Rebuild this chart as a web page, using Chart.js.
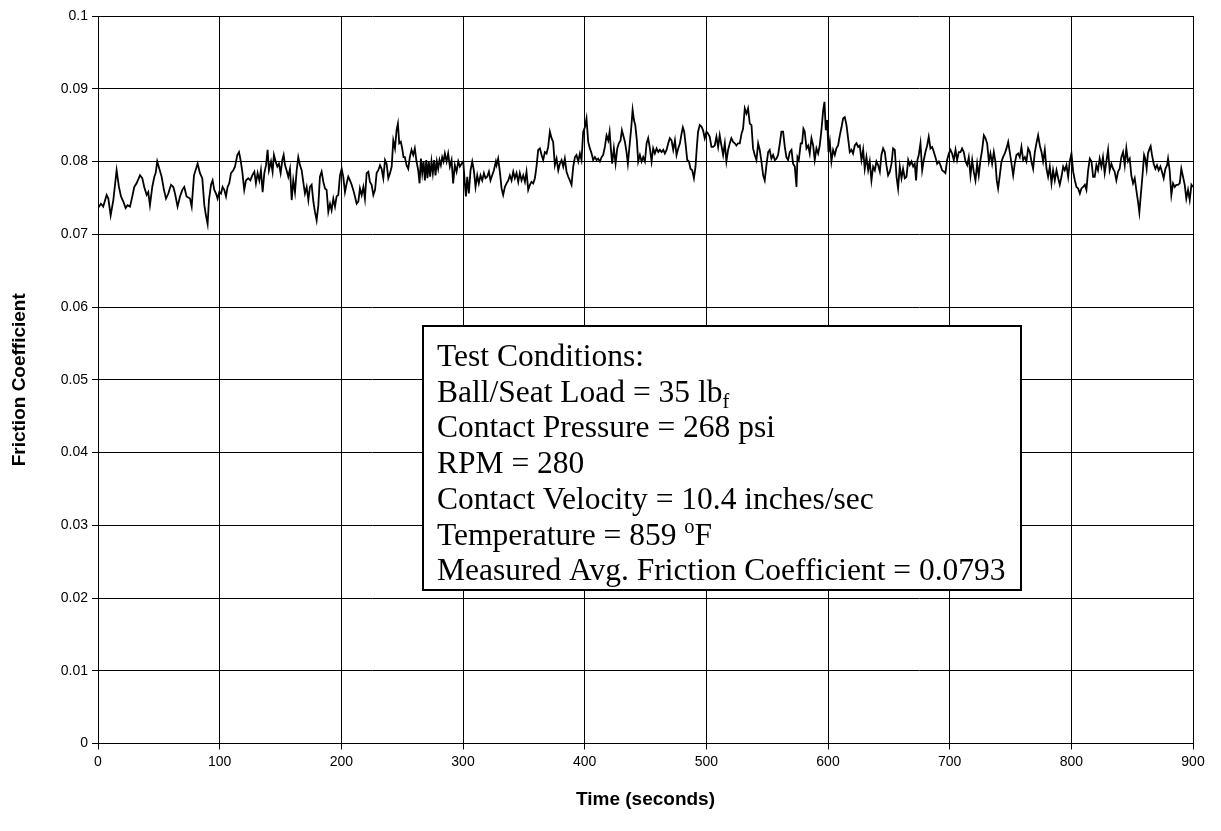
<!DOCTYPE html>
<html>
<head>
<meta charset="utf-8">
<title>Friction Coefficient vs Time</title>
<script src="https://cdn.jsdelivr.net/npm/chart.js@4.4.1/dist/chart.umd.min.js"></script>
<style>
  html, body { margin: 0; padding: 0; background: #fff; }
  #wrap { width: 1221px; height: 831px; }
</style>
</head>
<body>
<div id="wrap"><canvas id="frictionChart" width="1221" height="831"></canvas></div>
<script>
// sample times (s) and measured friction coefficient
const timeSec = [
  0, 2.4, 4.3, 7.1, 8.5, 10.4, 12.6, 15.3, 17.2, 18.9, 20.8, 22.7, 24.3, 26.3, 28.2, 29.8, 31.7, 34.5, 36.4, 38.0,
  40.0, 41.3, 42.7, 44.6, 46.3, 47.4, 48.7, 50.4, 52.3, 54.2, 55.9, 57.8, 60.0, 61.9, 63.3, 65.4, 67.4, 69.3, 70.9, 72.8,
  75.6, 77.0, 78.9, 81.9, 83.8, 85.7, 87.4, 88.7, 90.1, 91.2, 92.9, 94.2, 95.6, 97.0, 98.3, 99.7,
  101.1, 102.4, 103.8, 105.2, 106.5, 107.9, 109.3, 111.2, 112.6, 114.5, 115.9, 117.2, 118.6, 120.2, 121.6, 123.5, 125.2, 126.8, 128.5, 129.8,
  131.2, 132.6, 133.9, 135.3, 136.7, 138.1, 139.4, 140.5, 142.2, 143.5, 144.6, 146.0, 147.4, 148.7, 150.1, 151.5, 152.6, 153.7, 155.0, 156.4,
  157.8, 159.2, 160.5, 161.9, 163.3, 164.6, 166.0, 167.4, 168.7, 170.1, 171.5, 172.9, 174.2, 175.6, 177.0, 178.3, 179.7, 181.1, 182.4, 183.8,
  185.2, 186.6, 187.9, 189.3, 190.7, 192.0, 193.4, 194.8, 196.1, 197.5, 198.9,
  200.3, 201.6, 203.0, 204.4, 205.7, 207.1, 208.5, 209.8, 211.2, 212.6, 214.0, 215.3, 216.7, 218.1, 219.4, 220.8, 222.2, 223.5, 224.9, 226.3,
  227.7, 229.0, 230.4, 231.8, 233.1, 234.5, 235.9, 237.2, 238.6, 240.0, 241.4, 242.7, 244.1, 245.4, 246.5, 247.6, 248.9, 250.0, 251.1, 252.2,
  253.6, 255.0, 256.3, 257.7, 259.1, 260.4, 261.8, 263.2, 264.3, 265.4, 266.5, 267.6, 268.7, 269.8, 270.8, 271.9, 273.0, 274.1, 275.2, 276.3,
  277.4, 278.5, 279.6, 280.7, 281.8, 282.9, 284.0, 285.1, 286.5, 287.8, 289.2, 290.6, 291.9, 293.3, 294.7, 296.1, 297.4, 298.8,
  300.2, 301.5, 302.4, 303.5, 304.8, 306.2, 307.6, 308.9, 310.3, 311.7, 313.0, 314.4, 315.8, 317.2, 318.5, 319.9, 321.3, 322.6, 324.0, 325.4,
  327.0, 327.6, 328.9, 330.3, 331.7, 333.0, 334.4, 335.8, 337.2, 338.5, 339.9, 341.3, 342.6, 344.0, 345.4, 346.7, 348.1, 349.5, 350.9, 352.2,
  353.6, 355.0, 356.3, 357.7, 359.1, 360.4, 361.8, 363.2, 364.6, 365.9, 367.3, 368.7, 370.0, 371.4, 372.8, 374.1, 375.5, 376.9, 378.3, 379.6,
  381.0, 382.4, 383.7, 385.1, 386.5, 387.8, 389.2, 390.6, 392.0, 393.3, 394.7, 396.1, 397.4, 398.8,
  400.2, 401.5, 402.9, 404.3, 405.7, 407.0, 408.4, 409.8, 411.1, 412.5, 413.9, 415.2, 416.6, 418.0, 419.4, 420.5, 421.6, 422.6, 424.0, 425.4,
  426.8, 428.1, 429.5, 430.6, 432.0, 433.1, 434.4, 435.5, 436.9, 438.3, 439.4, 440.5, 441.6, 442.9, 444.0, 445.4, 446.8, 448.1, 449.5, 450.9,
  452.2, 453.6, 455.0, 456.3, 457.7, 459.1, 460.5, 461.8, 463.2, 464.6, 465.9, 467.3, 468.7, 470.0, 471.4, 472.8, 474.2, 475.5, 476.9, 478.3,
  479.6, 480.7, 481.8, 482.9, 484.3, 485.7, 487.0, 488.4, 489.8, 491.1, 492.2, 493.2, 494.6, 496.0, 497.3, 498.7,
  500.1, 501.5, 502.8, 504.2, 505.6, 506.9, 508.3, 509.7, 511.0, 512.4, 513.8, 515.2, 516.5, 517.9, 519.3, 520.6, 522.0, 523.4, 524.7, 526.1,
  527.5, 528.9, 530.2, 531.6, 533.0, 534.3, 535.7, 537.1, 538.4, 539.8, 541.2, 542.6, 543.9, 545.3, 546.7, 548.0, 549.4, 550.8, 552.1, 553.5,
  554.9, 556.3, 557.6, 559.0, 560.4, 561.7, 563.1, 564.5, 565.8, 567.2, 568.6, 570.0, 571.3, 572.7, 574.1, 574.9, 576.0, 577.6, 578.7, 579.8,
  580.9, 582.3, 583.7, 585.0, 586.4, 587.8, 589.1, 590.5, 591.9, 593.2, 594.6, 596.0, 597.1, 598.2, 599.3,
  600.4, 601.5, 602.8, 604.2, 605.6, 606.9, 608.3, 609.7, 611.1, 612.4, 613.8, 615.2, 616.5, 617.9, 619.3, 620.6, 622.0, 623.4, 624.8, 626.1,
  627.5, 628.9, 630.2, 631.6, 633.0, 634.3, 635.7, 637.1, 638.5, 639.8, 641.2, 642.6, 643.9, 645.3, 646.7, 648.0, 649.4, 650.8, 652.2, 653.5,
  654.9, 656.3, 657.6, 659.0, 660.4, 661.7, 663.1, 664.5, 665.9, 667.2, 668.6, 670.0, 671.3, 672.4, 673.5, 674.6, 676.0, 677.4, 678.7, 680.1,
  681.5, 682.8, 684.2, 685.6, 687.0, 688.3, 689.7, 691.1, 692.4, 693.8, 695.2, 696.5, 697.9, 699.3,
  700.7, 702.0, 703.4, 704.8, 706.1, 707.5, 708.9, 710.2, 711.6, 713.0, 714.4, 715.7, 717.1, 718.5, 719.8, 721.2, 722.6, 723.9, 725.3, 726.7,
  728.1, 729.4, 730.8, 732.2, 733.5, 734.9, 736.3, 737.6, 738.7, 739.8, 741.2, 742.6, 743.9, 745.3, 746.7, 748.1, 749.4, 750.8, 752.2, 753.5,
  754.9, 756.3, 757.6, 759.0, 760.4, 761.8, 763.1, 764.5, 765.9, 767.2, 768.6, 770.0, 771.3, 772.7, 774.1, 775.5, 776.8, 778.2, 779.6, 780.9,
  782.3, 783.7, 785.0, 786.4, 787.8, 789.2, 790.5, 791.9, 793.3, 794.6, 796.0, 797.4, 798.7,
  800.1, 801.5, 802.9, 804.2, 805.6, 807.0, 808.3, 809.7, 811.1, 812.4, 813.8, 815.2, 816.6, 817.9, 819.2, 820.6, 821.9, 823.3, 824.7, 826.0,
  827.4, 828.8, 830.2, 831.5, 832.9, 834.3, 835.6, 837.0, 838.4, 839.7, 841.1, 842.5, 843.9, 845.2, 846.6, 848.0, 849.3, 850.7, 852.1, 853.4,
  854.8, 855.9, 857.0, 858.4, 859.8, 860.8, 861.9, 863.0, 864.4, 865.2, 866.3, 867.7, 869.1, 870.4, 871.8, 873.2, 874.5, 875.9, 877.3, 878.7,
  879.5, 880.8, 882.2, 883.6, 885.0, 886.3, 887.7, 889.1, 890.4, 891.8, 893.2, 894.5, 895.9, 897.3, 898.7, 900
];
const friction = [
  0.0736, 0.0742, 0.0738, 0.0754, 0.0749, 0.0726, 0.0747, 0.0788, 0.0765, 0.0752, 0.0745, 0.0736, 0.0740, 0.0738, 0.0752, 0.0765, 0.0770, 0.0781, 0.0777, 0.0765,
  0.0754, 0.0758, 0.0740, 0.0765, 0.0779, 0.0784, 0.0800, 0.0790, 0.0779, 0.0761, 0.0749, 0.0756, 0.0768, 0.0765, 0.0756, 0.0738, 0.0752, 0.0761, 0.0765, 0.0752,
  0.0749, 0.0738, 0.0781, 0.0797, 0.0784, 0.0777, 0.0740, 0.0726, 0.0714, 0.0747, 0.0768, 0.0774, 0.0761, 0.0756, 0.0749, 0.0758,
  0.0756, 0.0765, 0.0761, 0.0752, 0.0765, 0.0770, 0.0784, 0.0788, 0.0793, 0.0809, 0.0813, 0.0802, 0.0786, 0.0761, 0.0774, 0.0777, 0.0774, 0.0781, 0.0786, 0.0770,
  0.0784, 0.0774, 0.0788, 0.0758, 0.0784, 0.0795, 0.0816, 0.0788, 0.0800, 0.0786, 0.0809, 0.0800, 0.0793, 0.0797, 0.0784, 0.0802, 0.0809, 0.0795, 0.0788, 0.0779,
  0.0790, 0.0747, 0.0774, 0.0758, 0.0788, 0.0806, 0.0795, 0.0788, 0.0772, 0.0756, 0.0765, 0.0747, 0.0765, 0.0768, 0.0745, 0.0731, 0.0719, 0.0740, 0.0779, 0.0786,
  0.0772, 0.0763, 0.0761, 0.0731, 0.0742, 0.0733, 0.0749, 0.0738, 0.0752, 0.0754, 0.0781,
  0.0790, 0.0779, 0.0758, 0.0770, 0.0779, 0.0774, 0.0768, 0.0761, 0.0752, 0.0742, 0.0745, 0.0763, 0.0754, 0.0765, 0.0749, 0.0784, 0.0786, 0.0772, 0.0768, 0.0754,
  0.0761, 0.0784, 0.0788, 0.0795, 0.0790, 0.0777, 0.0802, 0.0797, 0.0777, 0.0784, 0.0793, 0.0829, 0.0818, 0.0843, 0.0852, 0.0825, 0.0827, 0.0818, 0.0806, 0.0806,
  0.0795, 0.0790, 0.0806, 0.0816, 0.0809, 0.0818, 0.0800, 0.0788, 0.0770, 0.0804, 0.0784, 0.0800, 0.0774, 0.0802, 0.0777, 0.0800, 0.0779, 0.0800, 0.0784, 0.0802,
  0.0781, 0.0800, 0.0790, 0.0802, 0.0795, 0.0806, 0.0800, 0.0811, 0.0800, 0.0811, 0.0793, 0.0802, 0.0770, 0.0795, 0.0786, 0.0800, 0.0793, 0.0797,
  0.0800, 0.0770, 0.0752, 0.0779, 0.0756, 0.0788, 0.0800, 0.0788, 0.0765, 0.0781, 0.0770, 0.0781, 0.0774, 0.0784, 0.0777, 0.0779, 0.0786, 0.0774, 0.0781, 0.0788,
  0.0800, 0.0795, 0.0804, 0.0786, 0.0763, 0.0754, 0.0765, 0.0770, 0.0774, 0.0781, 0.0774, 0.0786, 0.0777, 0.0784, 0.0772, 0.0784, 0.0774, 0.0781, 0.0772, 0.0786,
  0.0761, 0.0768, 0.0772, 0.0770, 0.0777, 0.0793, 0.0816, 0.0818, 0.0809, 0.0802, 0.0813, 0.0811, 0.0820, 0.0841, 0.0832, 0.0827, 0.0795, 0.0804, 0.0788, 0.0797,
  0.0802, 0.0793, 0.0804, 0.0786, 0.0779, 0.0774, 0.0768, 0.0793, 0.0806, 0.0809, 0.0800, 0.0811, 0.0802, 0.0841,
  0.0847, 0.0859, 0.0827, 0.0818, 0.0811, 0.0802, 0.0806, 0.0802, 0.0804, 0.0800, 0.0806, 0.0809, 0.0820, 0.0836, 0.0829, 0.0841, 0.0816, 0.0797, 0.0818, 0.0797,
  0.0818, 0.0825, 0.0829, 0.0843, 0.0834, 0.0827, 0.0813, 0.0797, 0.0822, 0.0847, 0.0871, 0.0857, 0.0850, 0.0829, 0.0800, 0.0809, 0.0800, 0.0806, 0.0800, 0.0825,
  0.0832, 0.0818, 0.0800, 0.0818, 0.0811, 0.0818, 0.0813, 0.0816, 0.0813, 0.0816, 0.0811, 0.0816, 0.0825, 0.0832, 0.0829, 0.0816, 0.0829, 0.0809, 0.0818, 0.0825,
  0.0838, 0.0847, 0.0841, 0.0825, 0.0802, 0.0800, 0.0790, 0.0788, 0.0777, 0.0793, 0.0820, 0.0841, 0.0850, 0.0848, 0.0843, 0.0832,
  0.0841, 0.0838, 0.0834, 0.0820, 0.0820, 0.0822, 0.0834, 0.0820, 0.0836, 0.0822, 0.0809, 0.0825, 0.0800, 0.0816, 0.0825, 0.0832, 0.0827, 0.0825, 0.0822, 0.0825,
  0.0825, 0.0838, 0.0845, 0.0873, 0.0866, 0.0873, 0.0852, 0.0850, 0.0818, 0.0809, 0.0802, 0.0825, 0.0816, 0.0800, 0.0781, 0.0774, 0.0795, 0.0813, 0.0816, 0.0804,
  0.0809, 0.0802, 0.0804, 0.0809, 0.0825, 0.0841, 0.0841, 0.0820, 0.0806, 0.0802, 0.0813, 0.0816, 0.0797, 0.0793, 0.0765, 0.0806, 0.0802, 0.0825, 0.0825, 0.0845,
  0.0841, 0.0818, 0.0822, 0.0811, 0.0832, 0.0822, 0.0802, 0.0818, 0.0811, 0.0822, 0.0843, 0.0870, 0.0882, 0.0843, 0.0857,
  0.0813, 0.0827, 0.0800, 0.0816, 0.0809, 0.0818, 0.0822, 0.0836, 0.0847, 0.0859, 0.0861, 0.0850, 0.0832, 0.0813, 0.0816, 0.0811, 0.0822, 0.0825, 0.0820, 0.0822,
  0.0802, 0.0816, 0.0790, 0.0806, 0.0788, 0.0800, 0.0774, 0.0793, 0.0788, 0.0800, 0.0795, 0.0786, 0.0809, 0.0818, 0.0813, 0.0795, 0.0781, 0.0786, 0.0797, 0.0818,
  0.0816, 0.0779, 0.0763, 0.0793, 0.0777, 0.0790, 0.0777, 0.0779, 0.0802, 0.0795, 0.0800, 0.0793, 0.0797, 0.0774, 0.0802, 0.0809, 0.0825, 0.0788, 0.0802, 0.0813,
  0.0822, 0.0834, 0.0818, 0.0820, 0.0813, 0.0806, 0.0797, 0.0800, 0.0795, 0.0788, 0.0786, 0.0784, 0.0802, 0.0811,
  0.0816, 0.0811, 0.0802, 0.0816, 0.0802, 0.0813, 0.0813, 0.0818, 0.0813, 0.0800, 0.0795, 0.0806, 0.0781, 0.0802, 0.0786, 0.0774, 0.0797, 0.0781, 0.0802, 0.0816,
  0.0836, 0.0832, 0.0825, 0.0800, 0.0811, 0.0797, 0.0813, 0.0800, 0.0774, 0.0763, 0.0781, 0.0800, 0.0806, 0.0811, 0.0818, 0.0827, 0.0813, 0.0797, 0.0781, 0.0797,
  0.0809, 0.0811, 0.0806, 0.0820, 0.0802, 0.0806, 0.0800, 0.0818, 0.0813, 0.0800, 0.0790, 0.0813, 0.0825, 0.0836, 0.0822, 0.0813, 0.0800, 0.0816, 0.0790, 0.0779,
  0.0793, 0.0770, 0.0788, 0.0774, 0.0788, 0.0777, 0.0768, 0.0779, 0.0793, 0.0788, 0.0795, 0.0779, 0.0800,
  0.0811, 0.0786, 0.0774, 0.0765, 0.0763, 0.0756, 0.0763, 0.0765, 0.0768, 0.0761, 0.0788, 0.0804, 0.0800, 0.0779, 0.0779, 0.0795, 0.0788, 0.0804, 0.0793, 0.0806,
  0.0784, 0.0800, 0.0816, 0.0788, 0.0797, 0.0790, 0.0786, 0.0774, 0.0786, 0.0790, 0.0806, 0.0813, 0.0795, 0.0818, 0.0800, 0.0804, 0.0781, 0.0770, 0.0777, 0.0761,
  0.0745, 0.0730, 0.0752, 0.0779, 0.0809, 0.0804, 0.0790, 0.0811, 0.0818, 0.0821, 0.0809, 0.0797, 0.0790, 0.0795, 0.0788, 0.0793, 0.0786, 0.0777, 0.0790, 0.0795,
  0.0804, 0.0788, 0.0754, 0.0770, 0.0765, 0.0768, 0.0768, 0.0770, 0.0790, 0.0779, 0.0768, 0.0749, 0.0761, 0.0747, 0.0768, 0.0765
];

const xTicks = [0, 100, 200, 300, 400, 500, 600, 700, 800, 900];
const yTicks = [0, 0.01, 0.02, 0.03, 0.04, 0.05, 0.06, 0.07, 0.08, 0.09, 0.1];

// text box lines; pieces flagged sub/sup are drawn small
const conditions = [
  [{ text: 'Test Conditions:' }],
  [{ text: 'Ball/Seat Load = 35 lb' }, { text: 'f', sub: true }],
  [{ text: 'Contact Pressure = 268 psi' }],
  [{ text: 'RPM = 280' }],
  [{ text: 'Contact Velocity = 10.4 inches/sec' }],
  [{ text: 'Temperature = 859 ' }, { text: 'o', sup: true }, { text: 'F' }],
  [{ text: 'Measured Avg. Friction Coefficient = 0.0793' }]
];

const points = timeSec.map((t, i) => ({ x: t, y: friction[i] }));

const conditionsBox = {
  id: 'conditionsBox',
  afterDatasetsDraw(chart, args, opts) {
    const { ctx } = chart;
    const xs = chart.scales.x, ys = chart.scales.y;
    const left = Math.round(xs.getPixelForValue(opts.from[0]));
    const top = Math.round(ys.getPixelForValue(opts.from[1]));
    const right = Math.round(xs.getPixelForValue(opts.to[0]));
    const bottom = Math.round(ys.getPixelForValue(opts.to[1]));
    ctx.save();
    ctx.fillStyle = '#fff';
    ctx.fillRect(left, top, right - left, bottom - top);
    ctx.strokeStyle = '#000';
    ctx.lineWidth = 2;
    ctx.strokeRect(left, top, right - left, bottom - top);

    const size = opts.fontSize;
    const family = '"Liberation Serif", "Times New Roman", serif';
    ctx.fillStyle = '#000';
    ctx.textBaseline = 'alphabetic';
    ctx.textAlign = 'left';
    conditions.forEach((line, i) => {
      let x = left + opts.padX;
      const base = top + opts.firstBaseline + i * opts.lineGap;
      line.forEach(part => {
        let fs = size, dy = 0;
        if (part.sub) { fs = size * 0.65; dy = size * 0.2; }
        if (part.sup) { fs = size * 0.65; dy = -size * 0.38; }
        ctx.font = fs + 'px ' + family;
        ctx.fillText(part.text, x, base + dy);
        x += ctx.measureText(part.text).width;
      });
    });
    ctx.restore();
  }
};

new Chart(document.getElementById('frictionChart'), {
  type: 'line',
  data: {
    datasets: [{
      data: points,
      borderColor: '#000',
      borderWidth: 1.8,
      pointRadius: 0,
      tension: 0,
      fill: false
    }]
  },
  options: {
    responsive: false,
    animation: false,
    devicePixelRatio: 1,
    layout: { padding: { left: 0, top: 16, right: 28, bottom: 0 } },
    plugins: {
      legend: { display: false },
      tooltip: { enabled: false },
      conditionsBox: {
        from: [267, 0.0574],
        to: [759, 0.0211],
        fontSize: 31.5,
        padX: 14,
        firstBaseline: 40,
        lineGap: 35.7
      }
    },
    scales: {
      x: {
        type: 'linear',
        min: 0,
        max: 900,
        afterFit: s => { s.height = 87.5; },
        afterBuildTicks: s => { s.ticks = xTicks.map(v => ({ value: v })); },
        grid: { color: '#000', lineWidth: 1, tickLength: 6, drawTicks: true },
        border: { color: '#000', width: 1 },
        ticks: {
          color: '#000',
          padding: 4,
          maxRotation: 0,
          font: { family: '"Liberation Sans", Arial, sans-serif', size: 14 },
          callback: v => String(v)
        },
        title: {
          display: true,
          text: 'Time (seconds)',
          color: '#000',
          padding: { top: 0, bottom: 20 },
          font: { family: '"Liberation Sans", Arial, sans-serif', size: 19, weight: 'bold' }
        }
      },
      y: {
        min: 0,
        max: 0.1,
        afterFit: s => { s.width = 98; },
        afterBuildTicks: s => { s.ticks = yTicks.map(v => ({ value: v })); },
        grid: { color: '#000', lineWidth: 1, tickLength: 6, drawTicks: true },
        border: { color: '#000', width: 1 },
        ticks: {
          color: '#000',
          padding: 4,
          font: { family: '"Liberation Sans", Arial, sans-serif', size: 14 },
          callback: v => String(+v.toFixed(2))
        },
        title: {
          display: true,
          text: 'Friction Coefficient',
          color: '#000',
          padding: { top: 8, bottom: 0 },
          font: { family: '"Liberation Sans", Arial, sans-serif', size: 19, weight: 'bold' }
        }
      }
    }
  },
  plugins: [conditionsBox]
});
</script>
</body>
</html>
